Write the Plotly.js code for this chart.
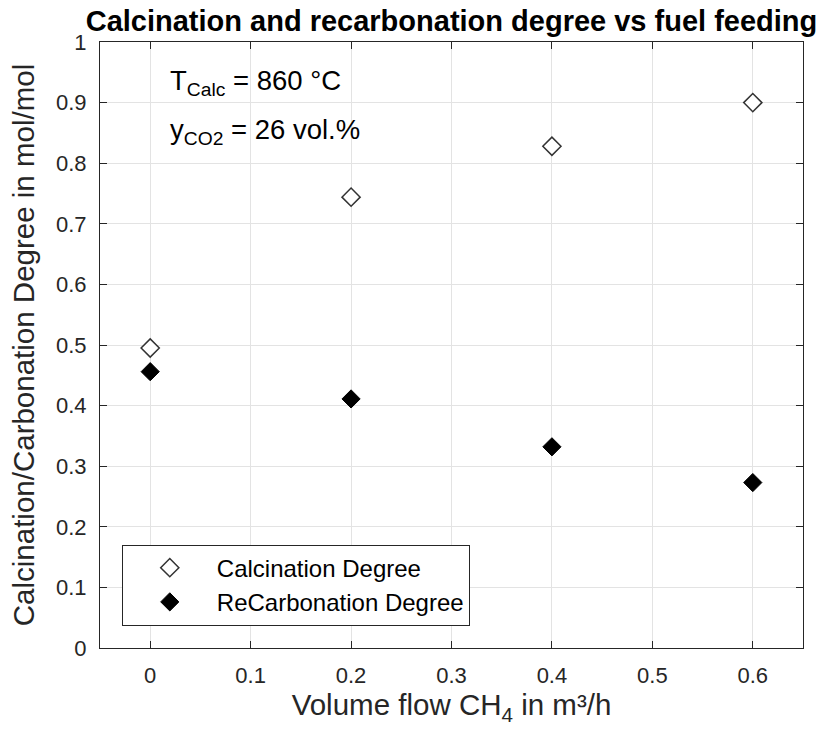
<!DOCTYPE html>
<html>
<head>
<meta charset="utf-8">
<script src="https://cdn.plot.ly/plotly-3.0.1.min.js"></script>
<style>html,body{margin:0;padding:0;background:#fff;}#chart{width:825px;height:734px;}</style>
</head>
<body>
<div id="chart"></div>
<script>
const fuelFlow = [0, 0.2, 0.4, 0.6];
const calcinationDegree = [0.495, 0.744, 0.828, 0.900];
const recarbonationDegree = [0.456, 0.411, 0.332, 0.273];
const seriesNames = ['Calcination Degree', 'ReCarbonation Degree'];
const xTicks = [0, 0.1, 0.2, 0.3, 0.4, 0.5, 0.6];
const yTicks = [0, 0.1, 0.2, 0.3, 0.4, 0.5, 0.6, 0.7, 0.8, 0.9, 1];
const yTickLabels = ['0', '0.1', '0.2', '0.3', '0.4', '0.5', '0.6', '0.7', '0.8', '0.9', '1'];
const xTickLabels = ['0', '0.1', '0.2', '0.3', '0.4', '0.5', '0.6'];

const FONT = 'Liberation Sans, Arial, Helvetica, sans-serif';
const AX = '#262626';

const traces = [
  {
    x: fuelFlow, y: calcinationDegree, name: seriesNames[0],
    type: 'scatter', mode: 'markers',
    marker: {symbol: 'diamond', size: 14, color: '#ffffff', line: {color: '#333333', width: 1.5}}
  },
  {
    x: fuelFlow, y: recarbonationDegree, name: seriesNames[1],
    type: 'scatter', mode: 'markers',
    marker: {symbol: 'diamond', size: 14, color: '#000000', line: {color: '#000000', width: 1}}
  }
];

const axisCommon = {
  showline: true, linecolor: AX, linewidth: 1, mirror: 'ticks',
  ticks: 'inside', ticklen: 7, tickcolor: AX, tickwidth: 1,
  showgrid: true, gridcolor: '#e3e3e3', gridwidth: 1,
  zeroline: false, tickfont: {family: FONT, size: 22, color: AX}
};

const layout = {
  width: 825, height: 734,
  margin: {l: 100, r: 22, t: 42, b: 86},
  paper_bgcolor: '#ffffff', plot_bgcolor: '#ffffff',
  showlegend: true,
  title: {
    text: '<b>Calcination and recarbonation degree vs fuel feeding</b>',
    font: {family: FONT, size: 29, color: '#000000'},
    xref: 'paper', x: 0.5, xanchor: 'center',
    yref: 'container', y: 0.972, yanchor: 'middle'
  },
  xaxis: Object.assign({}, axisCommon, {
    range: [-0.05, 0.65], tickvals: xTicks, ticktext: xTickLabels,
    ticklabelstandoff: 8,
    title: {text: 'Volume flow CH<sub>4</sub> in m³/h', font: {family: FONT, size: 29.5, color: AX}, standoff: 6}
  }),
  yaxis: Object.assign({}, axisCommon, {
    range: [0, 1], tickvals: yTicks, ticktext: yTickLabels,
    ticklabelstandoff: 8,
    title: {text: 'Calcination/Carbonation Degree in mol/mol', font: {family: FONT, size: 29.5, color: AX}, standoff: 12}
  }),
  legend: {
    x: 0.031, xanchor: 'left', y: 0.037, yanchor: 'bottom',
    bgcolor: '#ffffff', bordercolor: '#262626', borderwidth: 1,
    font: {family: FONT, size: 24, color: '#000000'},
    itemwidth: 84
  },
  annotations: [
    {text: 'T<sub>Calc</sub> = 860 °C', xref: 'paper', yref: 'paper', x: 0.097, y: 0.933,
     xanchor: 'left', yanchor: 'middle', showarrow: false, font: {family: FONT, size: 27.5, color: '#000000'}},
    {text: 'y<sub>CO2</sub> = 26 vol.%', xref: 'paper', yref: 'paper', x: 0.097, y: 0.852,
     xanchor: 'left', yanchor: 'middle', showarrow: false, font: {family: FONT, size: 27.5, color: '#000000'}}
  ]
};

Plotly.newPlot('chart', traces, layout, {displayModeBar: false, staticPlot: true});
</script>
</body>
</html>
